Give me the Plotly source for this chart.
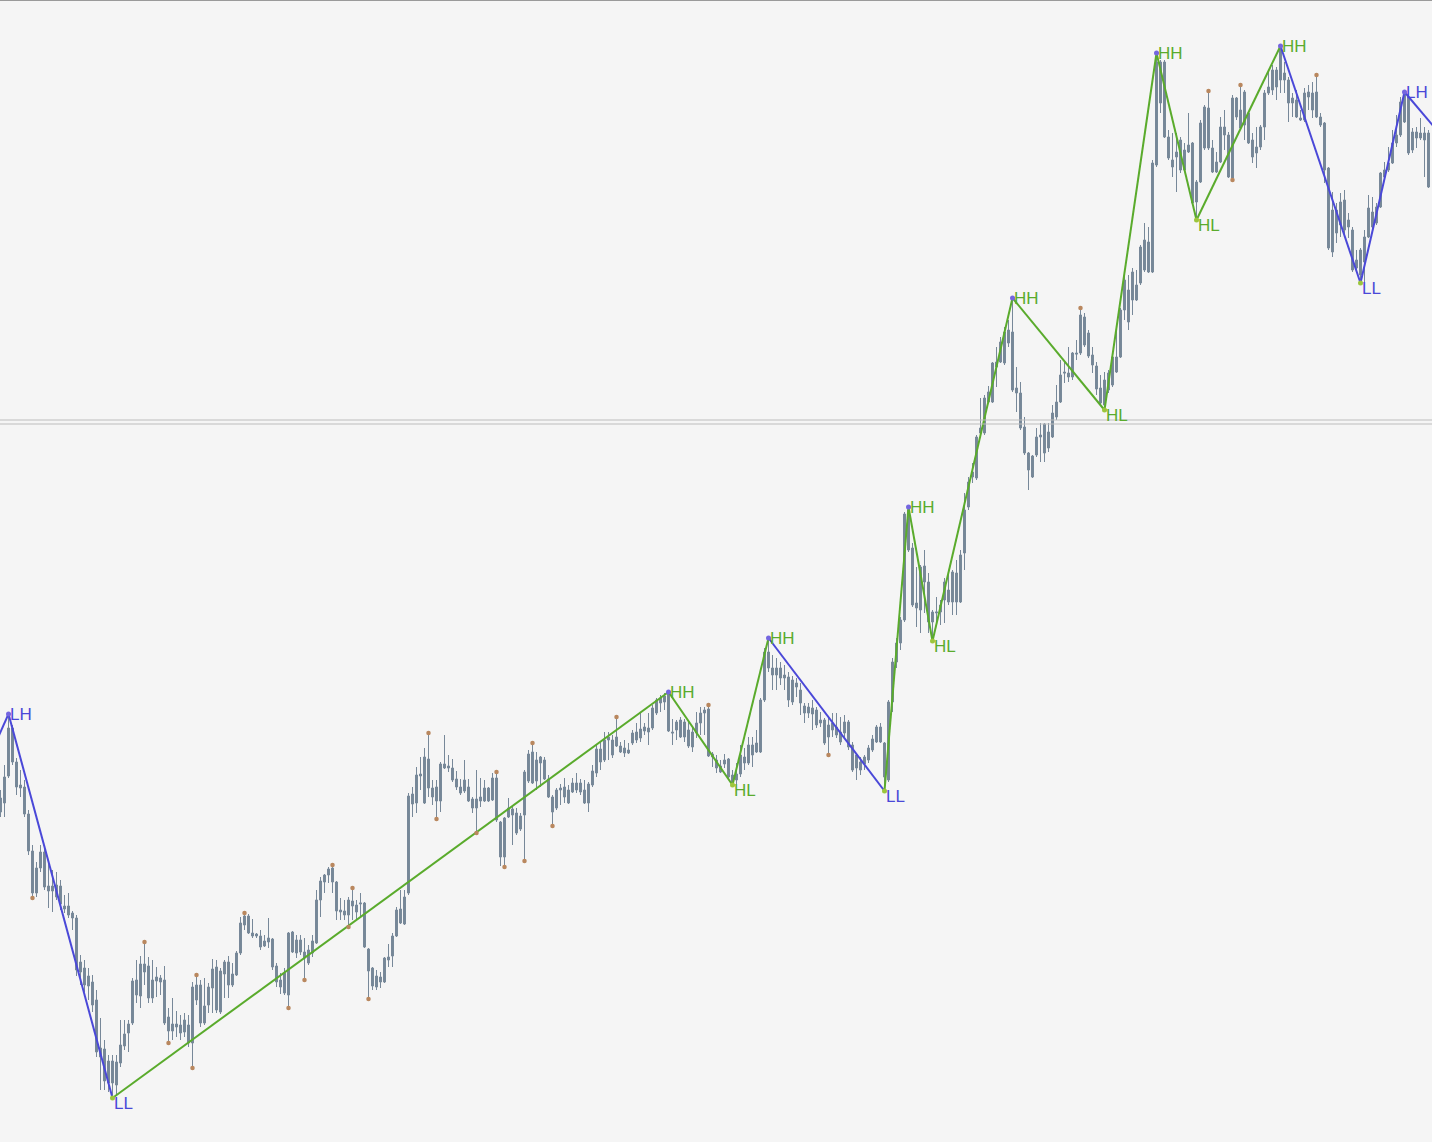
import plotly.graph_objects as go

# ---- candle data (price points) ----
open_ = [
    330, 339, 366, 414, 380, 357, 355, 328, 291, 274,
    290, 290, 256, 256, 257, 256, 236, 236, 229, 224,
    180, 174, 166, 160, 142, 94, 93, 81, 81, 57,
    79, 96, 109, 119, 147, 146, 170, 144, 144, 161,
    160, 119, 111, 111, 115, 109, 110, 99, 99, 142,
    119, 119, 137, 154, 132, 130, 168, 157, 157, 167,
    189, 217, 209, 206, 206, 195, 196, 200, 175, 160,
    155, 149, 147, 190, 189, 190, 184, 179, 189, 199,
    242, 260, 267, 260, 231, 230, 227, 227, 236, 230,
    238, 195, 171, 156, 155, 160, 160, 182, 186, 206,
    219, 218, 249, 338, 339, 366, 339, 354, 345, 341,
    341, 374, 374, 362, 355, 349, 351, 341, 334, 334,
    341, 341, 341, 342, 322, 285, 285, 325, 327, 309,
    313, 327, 361, 359, 361, 379, 363, 345, 330, 334,
    352, 345, 339, 350, 352, 350, 339, 339, 357, 369,
    380, 382, 402, 387, 396, 390, 389, 389, 399, 402,
    404, 411, 410, 414, 429, 439, 440, 411, 410, 420,
    422, 420, 412, 410, 419, 429, 432, 433, 388, 382,
    376, 382, 383, 367, 362, 368, 379, 379, 387, 390,
    390, 442, 474, 474, 474, 474, 467, 465, 462, 459,
    452, 436, 435, 434, 432, 422, 422, 417, 419, 415,
    410, 420, 420, 397, 387, 380, 385, 394, 403, 415,
    415, 399, 362, 440, 480, 499, 522, 592, 594, 539,
    575, 576, 560, 530, 529, 530, 542, 540, 540, 540,
    540, 589, 635, 665, 664, 709, 709, 740, 740, 775,
    780, 779, 799, 752, 754, 749, 715, 689, 686, 705,
    707, 718, 710, 729, 740, 767, 770, 769, 789, 789,
    827, 825, 809, 787, 776, 754, 762, 752, 757, 770,
    785, 832, 820, 842, 842, 859, 872, 870, 870, 977,
    1080, 1080, 1005, 982, 990, 1002, 992, 997, 999, 960,
    960, 994, 994, 970, 970, 980, 1007, 965, 964, 1025,
    1014, 1017, 999, 985, 989, 995, 1015, 1049, 1052, 1055,
    1062, 1069, 1062, 1044, 1042, 1024, 1049, 1050, 1049, 1050,
    1025, 1019, 974, 932, 932, 940, 942, 922, 912, 882,
    892, 880, 905, 915, 919, 935, 965, 972, 979, 999,
    1007, 1020, 1045, 1010, 1010, 1009, 1009, 1009,
]
high = [
    352, 377, 428, 417, 384, 372, 362, 332, 297, 280,
    297, 294, 280, 272, 270, 262, 247, 249, 231, 227,
    187, 182, 174, 167, 152, 124, 102, 87, 87, 87,
    122, 122, 122, 164, 182, 186, 200, 185, 182, 175,
    167, 176, 134, 144, 131, 127, 129, 127, 160, 167,
    162, 164, 159, 183, 182, 174, 182, 186, 179, 191,
    225, 229, 228, 223, 209, 212, 207, 224, 204, 179,
    169, 174, 210, 211, 207, 207, 204, 197, 207, 252,
    265, 268, 275, 277, 261, 244, 242, 245, 254, 242,
    249, 240, 194, 175, 172, 170, 185, 198, 209, 235,
    252, 252, 349, 355, 375, 385, 394, 409, 362, 362,
    380, 407, 387, 383, 371, 363, 382, 363, 345, 372,
    364, 362, 355, 369, 370, 321, 325, 344, 336, 334,
    329, 372, 392, 399, 390, 386, 385, 367, 347, 354,
    358, 364, 357, 364, 369, 363, 362, 360, 377, 397,
    401, 410, 410, 407, 425, 400, 402, 399, 412, 419,
    430, 419, 429, 437, 444, 447, 449, 450, 423, 422,
    425, 423, 420, 415, 430, 435, 435, 437, 390, 387,
    382, 388, 384, 372, 379, 397, 394, 405, 405, 412,
    444, 494, 504, 487, 484, 480, 477, 470, 466, 464,
    459, 439, 439, 442, 435, 430, 424, 425, 429, 429,
    425, 427, 422, 400, 389, 385, 387, 397, 407, 417,
    419, 400, 442, 484, 504, 525, 630, 635, 599, 575,
    577, 592, 569, 532, 545, 542, 564, 572, 572, 582,
    592, 649, 665, 679, 707, 744, 747, 756, 780, 795,
    805, 815, 822, 844, 775, 760, 725, 690, 687, 714,
    719, 719, 719, 737, 757, 782, 780, 795, 790, 802,
    834, 829, 812, 795, 780, 767, 770, 772, 787, 814,
    834, 872, 867, 874, 872, 897, 919, 915, 982, 1089,
    1082, 1082, 1012, 1009, 1009, 1005, 999, 1029, 1000, 962,
    1022, 1037, 1051, 1002, 990, 1025, 1032, 1010, 1047, 1045,
    1057, 1052, 1030, 1009, 1015, 1017, 1052, 1072, 1077, 1075,
    1096, 1080, 1065, 1049, 1052, 1032, 1054, 1057, 1060, 1067,
    1029, 1020, 975, 950, 939, 949, 952, 929, 915, 892,
    894, 912, 947, 945, 939, 970, 980, 995, 1012, 1027,
    1045, 1050, 1047, 1014, 1015, 1024, 1015, 1012,
]
low = [
    325, 325, 364, 377, 347, 345, 325, 287, 244, 245,
    270, 252, 234, 230, 242, 232, 229, 224, 212, 166,
    157, 150, 142, 130, 85, 52, 52, 50, 44, 46,
    75, 92, 90, 117, 139, 134, 157, 139, 139, 145,
    147, 117, 99, 102, 105, 102, 105, 95, 74, 137,
    115, 117, 129, 129, 129, 128, 144, 144, 155, 166,
    187, 212, 208, 204, 204, 192, 195, 194, 172, 155,
    148, 147, 134, 189, 184, 187, 162, 177, 185, 198,
    225, 249, 259, 249, 222, 222, 222, 215, 222, 222,
    225, 194, 143, 152, 152, 154, 159, 175, 175, 205,
    218, 217, 247, 325, 329, 352, 338, 345, 337, 323,
    330, 373, 370, 360, 352, 347, 349, 340, 329, 309,
    335, 340, 340, 341, 320, 276, 275, 324, 297, 307,
    311, 281, 359, 358, 352, 355, 362, 344, 316, 332,
    337, 339, 338, 349, 349, 347, 338, 330, 355, 365,
    372, 380, 382, 384, 395, 389, 385, 388, 397, 399,
    400, 407, 397, 412, 427, 430, 432, 410, 397, 402,
    404, 400, 394, 390, 404, 407, 407, 385, 375, 369,
    369, 374, 362, 357, 358, 365, 372, 377, 375, 389,
    389, 440, 470, 452, 452, 457, 452, 435, 437, 445,
    427, 419, 424, 412, 414, 415, 397, 387, 405, 404,
    397, 405, 392, 370, 362, 367, 372, 379, 390, 399,
    399, 351, 360, 430, 474, 492, 520, 590, 535, 515,
    509, 529, 509, 501, 519, 517, 519, 537, 527, 527,
    539, 572, 632, 659, 662, 705, 707, 739, 739, 755,
    779, 777, 795, 750, 730, 712, 687, 652, 664, 685,
    680, 680, 690, 704, 722, 739, 759, 760, 762, 782,
    787, 795, 784, 769, 747, 737, 732, 749, 755, 769,
    784, 822, 812, 827, 841, 857, 870, 869, 869, 975,
    1029, 1004, 982, 965, 950, 969, 970, 989, 937, 922,
    959, 992, 992, 969, 969, 979, 992, 964, 962, 1022,
    1012, 1002, 998, 979, 974, 992, 1002, 1047, 1047, 1042,
    1049, 1049, 1020, 1025, 1024, 1021, 1020, 1032, 1024, 1024,
    1015, 959, 892, 885, 899, 905, 905, 904, 870, 869,
    859, 860, 904, 912, 917, 934, 964, 970, 978, 995,
    1005, 1019, 987, 989, 994, 1002, 965, 954,
]
close = [
    344, 365, 414, 380, 355, 354, 328, 291, 249, 249,
    274, 255, 251, 251, 245, 238, 233, 227, 224, 172,
    170, 157, 156, 137, 90, 85, 61, 59, 59, 80,
    97, 108, 118, 161, 162, 178, 178, 176, 162, 165,
    164, 162, 125, 118, 118, 117, 122, 117, 155, 157,
    157, 136, 155, 173, 175, 171, 180, 180, 168, 189,
    219, 226, 226, 209, 208, 206, 201, 204, 203, 176,
    162, 169, 209, 210, 202, 202, 190, 192, 201, 242,
    261, 267, 273, 274, 260, 232, 231, 242, 241, 237,
    239, 239, 193, 174, 166, 165, 184, 185, 206, 232,
    233, 245, 346, 348, 367, 368, 385, 383, 354, 355,
    378, 378, 376, 374, 363, 355, 362, 355, 343, 343,
    345, 354, 354, 364, 364, 320, 324, 334, 333, 329,
    326, 370, 388, 390, 382, 385, 382, 363, 345, 352,
    354, 355, 352, 359, 359, 359, 352, 358, 371, 393,
    393, 402, 405, 402, 405, 396, 394, 392, 409, 410,
    413, 415, 414, 434, 442, 444, 446, 449, 409, 412,
    405, 405, 396, 395, 409, 419, 429, 386, 385, 374,
    370, 378, 365, 358, 368, 387, 385, 397, 397, 399,
    442, 490, 490, 467, 467, 464, 464, 442, 440, 455,
    439, 429, 429, 428, 417, 419, 399, 405, 412, 407,
    400, 409, 395, 372, 374, 372, 378, 382, 392, 400,
    400, 365, 440, 480, 499, 522, 628, 632, 537, 534,
    532, 560, 520, 520, 530, 537, 560, 552, 570, 569,
    587, 632, 660, 670, 705, 714, 744, 750, 779, 780,
    800, 810, 812, 810, 749, 714, 689, 672, 665, 687,
    705, 689, 694, 705, 725, 740, 769, 765, 765, 788,
    789, 797, 786, 777, 753, 739, 737, 769, 785, 785,
    832, 862, 852, 870, 857, 895, 902, 900, 979, 1080,
    1039, 1005, 984, 975, 985, 972, 972, 990, 939, 940,
    1019, 1035, 1034, 994, 980, 1015, 1015, 1007, 1044, 1044,
    1032, 1050, 1029, 1002, 995, 1015, 1049, 1055, 1072, 1072,
    1095, 1062, 1039, 1039, 1025, 1022, 1022, 1045, 1032, 1025,
    1017, 972, 894, 890, 909, 917, 912, 915, 872, 874,
    867, 905, 934, 930, 935, 969, 972, 979, 999, 1007,
    1040, 1049, 989, 992, 1004, 1004, 1002, 955,
]

# ---- zigzag swing points (candle index + type) ----
pivot_idx = [2, 28, 167, 183, 192, 221, 227, 233, 253, 276, 289, 299, 320, 340, 351]
pivot_type = ["LH", "LL", "HH", "HL", "HH", "LL", "HH", "HL", "HH", "HL",
              "HH", "HL", "HH", "LL", "LH"]
# swings just outside the visible window
lead_in_idx, lead_in_price = -4, 374
lead_out_idx, lead_out_price, lead_out_type = 362, 998, "LL"

# fractal markers (candle indices)
fractal_up = [36, 49, 61, 83, 88, 107, 124, 133, 154, 177, 270, 302, 310, 329]
fractal_dn = [8, 42, 48, 72, 76, 87, 92, 109, 119, 126, 131, 138, 207, 308]

# bid / ask price lines
price_lines = [722, 718]

CANDLE = "#778899"
BLUE = "#4a48d8"
GREEN = "#5aab2c"
BG = "#f5f5f5"

x = list(range(len(open_)))

fig = go.Figure()
fig.add_trace(go.Candlestick(
    x=x, open=open_, high=high, low=low, close=close,
    increasing=dict(line=dict(color=CANDLE, width=1), fillcolor=CANDLE),
    decreasing=dict(line=dict(color=CANDLE, width=1), fillcolor=CANDLE),
    whiskerwidth=0, hoverinfo="skip", showlegend=False,
))

def pivot_price(i, t):
    return high[i] if t in ("HH", "LH") else low[i]

zx = [lead_in_idx] + pivot_idx + [lead_out_idx]
zy = [lead_in_price] + [pivot_price(i, t) for i, t in zip(pivot_idx, pivot_type)] + [lead_out_price]
zt = [None] + pivot_type + [lead_out_type]

for k in range(1, len(zx)):
    col = BLUE if zt[k] in ("LH", "LL") else GREEN
    fig.add_trace(go.Scatter(x=[zx[k - 1], zx[k]], y=[zy[k - 1], zy[k]], mode="lines",
                             line=dict(color=col, width=2), hoverinfo="skip", showlegend=False))

# fractal dots
fig.add_trace(go.Scatter(
    x=fractal_up + fractal_dn,
    y=[high[i] for i in fractal_up] + [low[i] for i in fractal_dn],
    mode="markers", marker=dict(color="#b9875e", size=4.5, line=dict(width=0)),
    hoverinfo="skip", showlegend=False))

# pivot dots
hi_piv = [(i, t) for i, t in zip(pivot_idx, pivot_type) if t in ("HH", "LH")]
lo_piv = [(i, t) for i, t in zip(pivot_idx, pivot_type) if t in ("LL", "HL")]
fig.add_trace(go.Scatter(x=[i for i, _ in hi_piv], y=[high[i] for i, _ in hi_piv], mode="markers",
                         marker=dict(color="#7466e0", size=5), hoverinfo="skip", showlegend=False))
fig.add_trace(go.Scatter(x=[i for i, _ in lo_piv], y=[low[i] for i, _ in lo_piv], mode="markers",
                         marker=dict(color="#9cc63c", size=5), hoverinfo="skip", showlegend=False))

annotations = []
for i, t in zip(pivot_idx, pivot_type):
    col = BLUE if t in ("LH", "LL") else GREEN
    is_high = t in ("HH", "LH")
    annotations.append(dict(
        x=i, y=pivot_price(i, t), text=t, showarrow=False,
        xanchor="left", yanchor="middle" if is_high else "top",
        xshift=-1, yshift=0 if is_high else 6,
        font=dict(family="Liberation Sans, Arial", size=17, color=col),
    ))

shapes = [dict(type="line", xref="paper", x0=0, x1=1, yref="y", y0=p, y1=p,
               line=dict(color="#bdbdbd", width=1)) for p in price_lines]
shapes.append(dict(type="line", xref="paper", x0=0, x1=1, yref="paper", y0=1, y1=1,
                   line=dict(color="#9a9a9a", width=2)))

fig.update_layout(
    width=1432, height=1142,
    margin=dict(l=0, r=0, t=0, b=0, pad=0),
    paper_bgcolor=BG, plot_bgcolor=BG,
    boxgap=0.3,
    showlegend=False,
    annotations=annotations,
    shapes=shapes,
    xaxis=dict(range=[-0.125, 357.875], visible=False, rangeslider=dict(visible=False), fixedrange=True),
    yaxis=dict(range=[0, 1142], visible=False, fixedrange=True),
    hovermode=False,
)

fig.write_html(
    "out.html",
    config={"displayModeBar": False},
    post_script="document.body.style.margin='0';document.body.style.overflow='hidden';",
)
